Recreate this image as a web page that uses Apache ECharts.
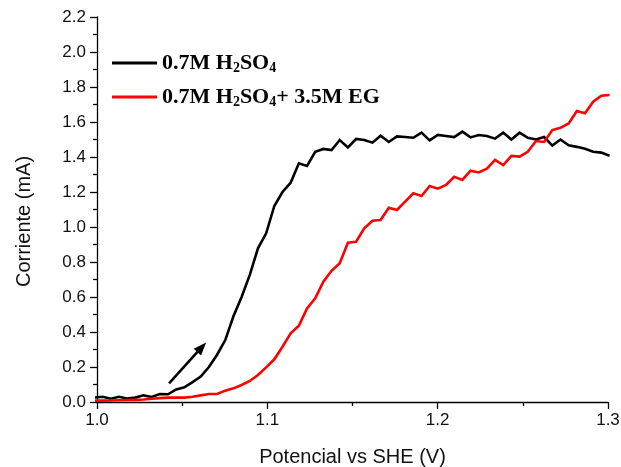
<!DOCTYPE html>
<html>
<head>
<meta charset="utf-8">
<script src="https://cdn.jsdelivr.net/npm/echarts@6/dist/echarts.min.js"></script>
<style>
  html, body { margin: 0; padding: 0; background: #ffffff; }
  #chart { width: 621px; height: 467px; }
</style>
</head>
<body>
<div id="chart"></div>
<script>
// Anodic sweep: potential (V vs SHE) shared by both measurements
const potential = [
  0.9985, 1.0033, 1.0081, 1.0129, 1.0177, 1.0225, 1.0273, 1.0321, 1.0369, 1.0417,
  1.0465, 1.0513, 1.0561, 1.0609, 1.0657, 1.0705, 1.0753, 1.0801, 1.0849, 1.0897,
  1.0945, 1.0993, 1.1041, 1.1089, 1.1137, 1.1185, 1.1233, 1.1281, 1.1329, 1.1377,
  1.1425, 1.1473, 1.1521, 1.1569, 1.1617, 1.1665, 1.1713, 1.1761, 1.1809, 1.1857,
  1.1905, 1.1953, 1.2001, 1.2049, 1.2097, 1.2145, 1.2193, 1.2241, 1.2289, 1.2337,
  1.2385, 1.2433, 1.2481, 1.2529, 1.2577, 1.2625, 1.2673, 1.2721, 1.2769, 1.2817,
  1.2865, 1.2913, 1.2961, 1.3009
];

// Current (mA) in 0.7M H2SO4
const currentAcid = [
  0.025, 0.030, 0.019, 0.030, 0.020, 0.025, 0.038, 0.029, 0.046, 0.044,
  0.072, 0.084, 0.114, 0.145, 0.200, 0.270, 0.354, 0.490, 0.600, 0.726,
  0.878, 0.964, 1.120, 1.200, 1.253, 1.364, 1.349, 1.430, 1.446, 1.440,
  1.497, 1.455, 1.503, 1.497, 1.482, 1.522, 1.486, 1.518, 1.514, 1.510,
  1.539, 1.495, 1.526, 1.520, 1.514, 1.545, 1.512, 1.526, 1.520, 1.505,
  1.539, 1.500, 1.539, 1.510, 1.500, 1.514, 1.465, 1.500, 1.467, 1.458,
  1.447, 1.430, 1.425, 1.407
];

// Current (mA) in 0.7M H2SO4 + 3.5M ethylene glycol
const currentAcidEG = [
  0.008, 0.008, 0.009, 0.010, 0.011, 0.012, 0.014, 0.019, 0.022, 0.025,
  0.025, 0.025, 0.030, 0.038, 0.046, 0.046, 0.065, 0.078, 0.097, 0.120,
  0.154, 0.198, 0.244, 0.316, 0.392, 0.436, 0.535, 0.592, 0.687, 0.750,
  0.793, 0.910, 0.916, 0.992, 1.036, 1.040, 1.110, 1.097, 1.145, 1.193,
  1.177, 1.234, 1.219, 1.240, 1.287, 1.269, 1.322, 1.312, 1.333, 1.383,
  1.354, 1.406, 1.402, 1.430, 1.491, 1.486, 1.554, 1.567, 1.592, 1.663,
  1.650, 1.716, 1.750, 1.754
];

// Sweep-direction arrow: tail and head in (V, mA)
const sweepArrow = [[1.0423, 0.107], [1.0615, 0.313]];

const seriesNames = ['0.7M H2SO4', '0.7M H2SO4 + 3.5M EG'];
const legendLabels = {
  '0.7M H2SO4': '{n|0.7M H}{s|2}{n|SO}{s|4}',
  '0.7M H2SO4 + 3.5M EG': '{n|0.7M H}{s|2}{n|SO}{s|4}{n|+ 3.5M EG}'
};

const xTicks = { min: 1.0, max: 1.3, step: 0.1 };
const yTicks = { min: 0, max: 2.2, step: 0.2 };

const pair = (ys) => potential.map((x, i) => [x, ys[i]]);

const axisColor = '#000000';
const labelFont = { color: '#111111', fontFamily: 'Liberation Sans, Arial, sans-serif', fontSize: 17 };
const serif = 'Liberation Serif, Times New Roman, serif';

const chart = echarts.init(document.getElementById('chart'), null, { renderer: 'canvas' });

chart.setOption({
  backgroundColor: '#ffffff',
  animation: false,
  grid: { left: 97, right: 13, top: 17, bottom: 65, containLabel: false, outerBoundsMode: 'none' },
  legend: {
    orient: 'vertical',
    left: 112,
    top: 52,
    padding: 0,
    itemGap: 11,
    itemWidth: 45,
    itemHeight: 3,
    icon: 'rect',
    data: seriesNames,
    formatter: (name) => legendLabels[name],
    textStyle: {
      rich: {
        n: { fontFamily: serif, fontWeight: 'bold', fontSize: 22, lineHeight: 24, color: '#000' },
        s: { fontFamily: serif, fontWeight: 'bold', fontSize: 14, lineHeight: 8, verticalAlign: 'bottom', color: '#000' }
      }
    }
  },
  xAxis: {
    type: 'value',
    min: xTicks.min,
    max: xTicks.max,
    interval: xTicks.step,
    name: 'Potencial vs SHE (V)',
    nameLocation: 'middle',
    nameGap: 45,
    nameTextStyle: { color: '#111111', fontFamily: 'Liberation Sans, Arial, sans-serif', fontSize: 20 },
    axisLine: { show: true, onZero: false, lineStyle: { color: axisColor, width: 1.3 } },
    axisTick: { show: true, inside: false, length: 7, lineStyle: { color: axisColor, width: 1.3 } },
    minorTick: { show: true, splitNumber: 2, length: 4, lineStyle: { color: axisColor, width: 1.3 } },
    splitLine: { show: false },
    axisLabel: Object.assign({ margin: 10, formatter: (v) => v.toFixed(1) }, labelFont)
  },
  yAxis: {
    type: 'value',
    min: yTicks.min,
    max: yTicks.max,
    interval: yTicks.step,
    name: 'Corriente (mA)',
    nameLocation: 'middle',
    nameGap: 63,
    nameTextStyle: { color: '#111111', fontFamily: 'Liberation Sans, Arial, sans-serif', fontSize: 20, padding: [0, 24, 0, 0] },
    axisLine: { show: true, onZero: false, lineStyle: { color: axisColor, width: 1.3 } },
    axisTick: { show: true, inside: false, length: 7, lineStyle: { color: axisColor, width: 1.3 } },
    minorTick: { show: true, splitNumber: 2, length: 4, lineStyle: { color: axisColor, width: 1.3 } },
    splitLine: { show: false },
    axisLabel: Object.assign({ margin: 11, formatter: (v) => v.toFixed(1) }, labelFont)
  },
  series: [
    {
      name: seriesNames[0],
      type: 'line',
      data: pair(currentAcid),
      symbol: 'none',
      clip: true,
      lineStyle: { color: '#000000', width: 2.6, join: 'miter' },
      itemStyle: { color: '#000000' },
      markLine: {
        silent: true,
        symbol: ['none', 'triangle'],
        symbolSize: [10, 13],
        label: { show: false },
        lineStyle: { color: '#000000', width: 2.6, type: 'solid' },
        data: [[{ coord: sweepArrow[0] }, { coord: sweepArrow[1] }]]
      }
    },
    {
      name: seriesNames[1],
      type: 'line',
      data: pair(currentAcidEG),
      symbol: 'none',
      clip: true,
      lineStyle: { color: '#ff0000', width: 2.6, join: 'miter' },
      itemStyle: { color: '#ff0000' }
    }
  ]
});
</script>
</body>
</html>
